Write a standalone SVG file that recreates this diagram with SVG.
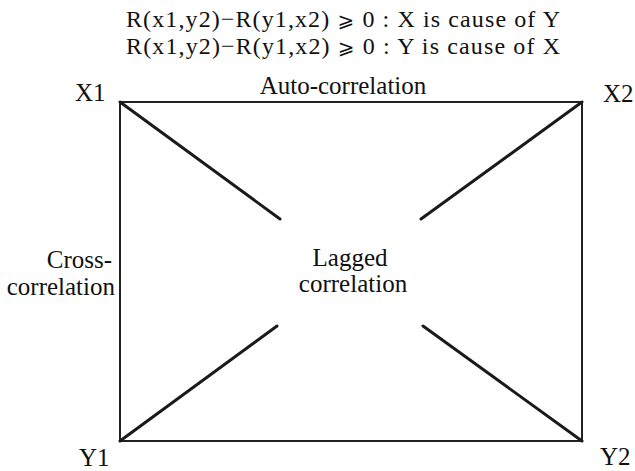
<svg xmlns="http://www.w3.org/2000/svg" width="635" height="471" viewBox="0 0 635 471">
<style>
text{font-family:"Liberation Serif","Times New Roman",serif;fill:#111;font-size:25px}
.t{font-size:24px}
.ge{font-family:"DejaVu Serif","DejaVu Sans",serif;font-size:20px}
.box{fill:none;stroke:#222;stroke-width:2}
.diag{stroke:#1a1a1a;stroke-width:3;stroke-linecap:round}
</style>
<rect width="635" height="471" fill="#fff"/>
<g id="title">
<text class="t" x="126" y="27" textLength="434" lengthAdjust="spacing">R(x1,y2)−R(y1,x2) <tspan class="ge">⩾</tspan> 0 : X is cause of Y</text>
<text class="t" x="126" y="54" textLength="434" lengthAdjust="spacing">R(x1,y2)−R(y1,x2) <tspan class="ge">⩾</tspan> 0 : Y is cause of X</text>
</g>
<g id="connectors">
<rect class="box" x="120" y="102" width="462" height="339"/>
<line class="diag" x1="120" y1="102" x2="280" y2="219"/>
<line class="diag" x1="582" y1="102" x2="421" y2="219"/>
<line class="diag" x1="120" y1="441" x2="277" y2="326"/>
<line class="diag" x1="582" y1="441" x2="423" y2="326"/>
</g>
<g id="X1"><text x="75" y="101">X1</text></g>
<g id="X2"><text x="603" y="102">X2</text></g>
<g id="Y1"><text x="79" y="466">Y1</text></g>
<g id="Y2"><text x="600" y="465">Y2</text></g>
<g id="auto"><text x="343" y="94" text-anchor="middle">Auto-correlation</text></g>
<g id="cross"><text x="112" y="268" text-anchor="end">Cross-</text><text x="115" y="295" text-anchor="end">correlation</text></g>
<g id="lagged"><text x="350" y="266" text-anchor="middle">Lagged</text><text x="353" y="292" text-anchor="middle">correlation</text></g>
</svg>
